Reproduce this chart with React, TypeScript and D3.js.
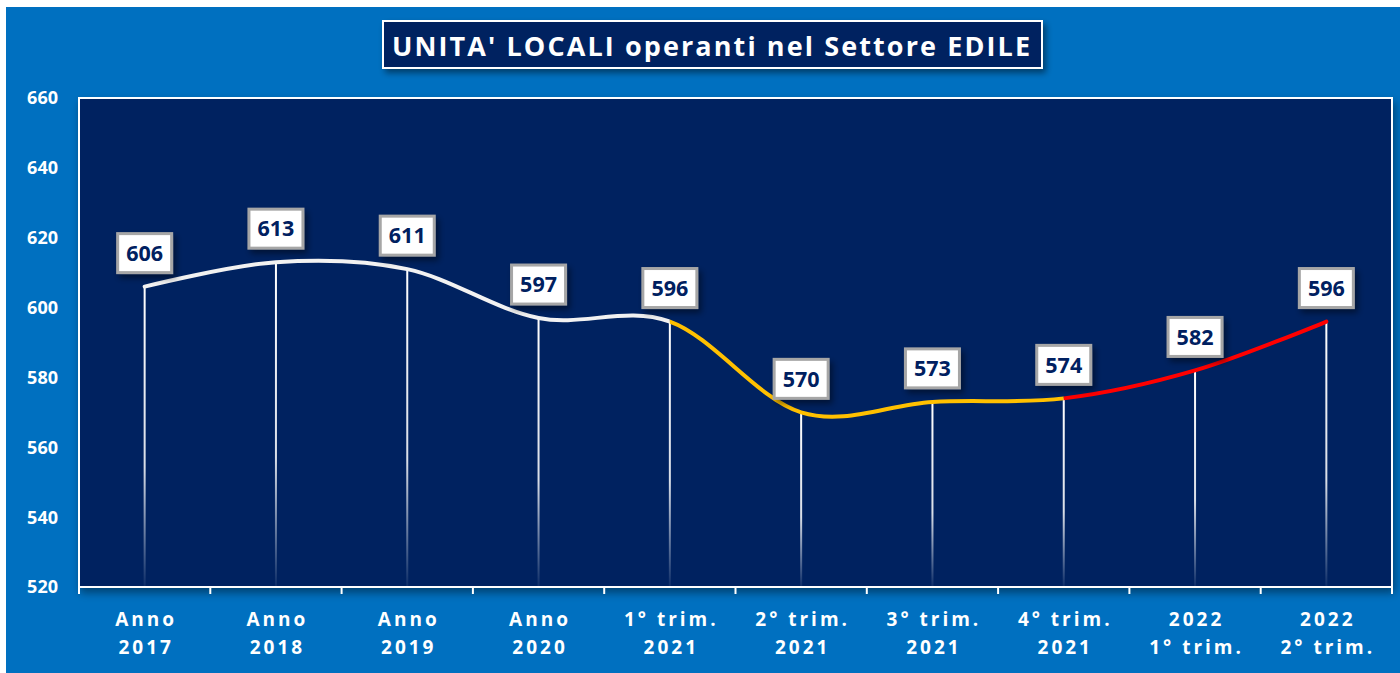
import React from "react";
import * as d3 from "d3";

const categoriesLine1 = ["Anno", "Anno", "Anno", "Anno", "1° trim.", "2° trim.", "3° trim.", "4° trim.", "2022", "2022"];
const categoriesLine2 = ["2017", "2018", "2019", "2020", "2021", "2021", "2021", "2021", "1° trim.", "2° trim."];
const values = [606, 613, 611, 597, 596, 570, 573, 574, 582, 596];
const yTicks = [520, 540, 560, 580, 600, 620, 640, 660];
const segmentBreaks = [4, 7]; // index where colour changes
const segmentColors = ["#F2F2F2", "#FFC000", "#FF0000"];
const title = "UNITA' LOCALI operanti nel Settore EDILE";

const W = 1400;
const H = 673;
const plot = { left: 79, right: 1392, top: 98, bottom: 587 };
const FONT = "'Open Sans', 'Noto Sans', sans-serif";

export default function App() {
  const keys = categoriesLine1.map((_, i) => String(i));
  const x = d3.scaleBand<string>().domain(keys).range([plot.left, plot.right]).paddingInner(0).paddingOuter(0);
  const y = d3.scaleLinear().domain([520, 660]).range([plot.bottom, plot.top]);
  const cx = (i: number) => (x(String(i)) as number) + x.bandwidth() / 2;
  const pts: [number, number][] = values.map((v, i) => [cx(i), y(v)]);
  const line = d3.line<[number, number]>().x((d) => d[0]).y((d) => d[1]).curve(d3.curveCardinal.tension(0));
  const pathD = line(pts) || "";

  const bounds = [plot.left - 10, cx(segmentBreaks[0]), cx(segmentBreaks[1]), plot.right + 10];
  const boundaries = d3.range(keys.length + 1).map((i) => plot.left + i * x.bandwidth());

  return (
    <svg width={W} height={H} style={{ position: "fixed", left: 0, top: 0, display: "block" }}>
      <defs>
        <filter id="shadow" x="-20%" y="-20%" width="150%" height="160%">
          <feDropShadow dx="3" dy="4" stdDeviation="3" floodColor="#000" floodOpacity="0.45" />
        </filter>
        <filter id="plotShadow" x="-5%" y="-5%" width="110%" height="115%">
          <feDropShadow dx="2" dy="5" stdDeviation="4" floodColor="#000" floodOpacity="0.4" />
        </filter>
        <linearGradient id="dropGrad" x1="0" y1="0" x2="0" y2="1">
          <stop offset="0" stopColor="#ffffff" stopOpacity="1" />
          <stop offset="0.6" stopColor="#ffffff" stopOpacity="0.85" />
          <stop offset="1" stopColor="#ffffff" stopOpacity="0.05" />
        </linearGradient>
        {bounds.slice(0, 3).map((b, i) => (
          <clipPath id={`seg${i}`} key={i}>
            <rect x={b} y={0} width={bounds[i + 1] - b} height={H} />
          </clipPath>
        ))}
      </defs>
      <rect x={0} y={0} width={W} height={H} fill="#ffffff" />
      <rect x={6} y={7} width={W - 6} height={H - 7} fill="#0070C0" />

      {/* plot area */}
      <rect
        x={plot.left}
        y={plot.top}
        width={plot.right - plot.left}
        height={plot.bottom - plot.top}
        fill="#002060"
        stroke="#ffffff"
        strokeWidth={2}
        filter="url(#plotShadow)"
      />

      {/* y axis labels */}
      {yTicks.map((t) => (
        <text
          key={t}
          x={58}
          y={y(t)}
          dy="0.36em"
          textAnchor="end"
          fill="#ffffff"
          fontFamily={FONT}
          fontWeight={700}
          fontSize={18}
        >
          {t}
        </text>
      ))}

      {/* x axis ticks */}
      {boundaries.map((b, i) => (
        <line key={i} x1={b} x2={b} y1={plot.bottom} y2={plot.bottom + 7} stroke="#ffffff" strokeWidth={2} />
      ))}
      <line x1={plot.left} x2={plot.right} y1={plot.bottom} y2={plot.bottom} stroke="#ffffff" strokeWidth={2} />

      {/* x labels */}
      {keys.map((k, i) => (
        <g key={k} fill="#ffffff" fontFamily={FONT} fontWeight={700} fontSize={19} textAnchor="middle" letterSpacing={3}>
          <text x={cx(i) + 1.5} y={626}>{categoriesLine1[i]}</text>
          <text x={cx(i) + 1.5} y={654}>{categoriesLine2[i]}</text>
        </g>
      ))}

      {/* drop lines */}
      {pts.map((p, i) => (
        <rect key={i} x={p[0] - 1} y={p[1]} width={2} height={plot.bottom - p[1]} fill="url(#dropGrad)" />
      ))}

      {/* smoothed line, coloured in segments */}
      {segmentColors.map((c, i) => (
        <path
          key={i}
          d={pathD}
          fill="none"
          stroke={c}
          strokeWidth={4}
          strokeLinecap="round"
          clipPath={`url(#seg${i})`}
        />
      ))}

      {/* data labels */}
      {pts.map((p, i) => (
        <g key={i}>
          <rect
            x={p[0] - 27}
            y={p[1] - 53}
            width={54}
            height={39}
            fill="#ffffff"
            stroke="#A6A6A6"
            strokeWidth={3}
            filter="url(#shadow)"
          />
          <text
            x={p[0]}
            y={p[1] - 33.5}
            dy="0.36em"
            textAnchor="middle"
            fill="#002060"
            fontFamily={FONT}
            fontWeight={700}
            fontSize={21.5}
          >
            {values[i]}
          </text>
        </g>
      ))}

      {/* title */}
      <rect x={383} y={21} width={659} height={47} fill="#002060" stroke="#ffffff" strokeWidth={2} filter="url(#shadow)" />
      <text
        x={392}
        y={56}
        fill="#ffffff"
        fontFamily={FONT}
        fontWeight={700}
        fontSize={27}
        textLength={638}
        lengthAdjust="spacing"
      >
        {title}
      </text>
    </svg>
  );
}
